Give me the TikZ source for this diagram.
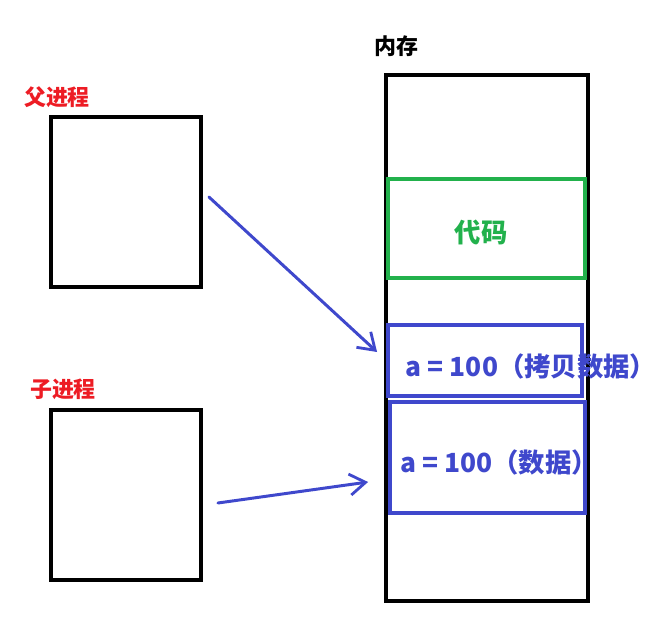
\documentclass[tikz,border=0pt]{standalone}
\usepackage{fontspec}
\newfontfamily\cjk{Noto Sans CJK SC}
\usetikzlibrary{positioning, arrows.meta, calc}
\definecolor{frame}{RGB}{0, 0, 0}
\definecolor{label}{RGB}{237, 28, 36}
\definecolor{segcode}{RGB}{34, 177, 76}
\definecolor{segdata}{RGB}{63, 72, 204}

\begin{document}
\begin{tikzpicture}[
    box/.style={
        rectangle, draw=#1, line width=2.2pt,
        inner sep=0pt,
    },
    tag/.style={
        font=\cjk\bfseries\fontsize{12.5}{14}\selectfont, text=#1,
        inner sep=0pt,
    },
    segtext/.style={
        font=\cjk\bfseries\fontsize{15}{17}\selectfont, text=#1,
        inner sep=0pt,
    },
    link/.style={-{Straight Barb[length=9pt, width=12pt, line width=1.6pt]},
        line width=1.7pt, draw=segdata, line cap=round},
]
\useasboundingbox (0,0) rectangle (12.94,-12.48);

% --- Memory column ---
\node[box=frame, minimum width=4.04cm, minimum height=10.52cm] (mem) at (9.74,-6.76) {};
\node[tag=frame] (memtag) at (7.92,-0.92) {内存};

% --- Segments inside memory ---
\node[box=segcode, minimum width=3.94cm, minimum height=1.98cm] (code) at (9.73,-4.57) {};
\node[segtext=segcode] (codetxt) at (9.62,-4.64) {代码};
\node[box=segdata, minimum width=3.88cm, minimum height=1.42cm] (copy) at (9.70,-7.21) {};
\node[segtext=segdata] (copytxt) at (10.62,-7.32) {a = 100（拷贝数据）};
\node[box=segdata, minimum width=3.90cm, minimum height=2.22cm] (data) at (9.75,-9.15) {};
\node[segtext=segdata] (datatxt) at (9.98,-9.24) {a = 100（数据）};

% --- Processes ---
\node[box=frame, minimum width=3.0cm, minimum height=3.4cm] (parent) at (2.52,-4.04) {};
\node[tag=label] (parenttag) at (1.14,-1.94) {父进程};
\node[box=frame, minimum width=3.0cm, minimum height=3.4cm] (child) at (2.52,-9.90) {};
\node[tag=label] (childtag) at (1.26,-7.78) {子进程};

% --- Arrows to memory ---
\coordinate (pout) at ($(parent.east)+(0.12,0.10)$);
\coordinate (pin) at ($(copy.west)+(-0.18,0.17)$);
\coordinate (cout) at ($(child.east)+(0.30,-0.16)$);
\coordinate (cin) at ($(data.west)+(-0.40,-0.49)$);
\draw[link] (pout) -- (pin);
\draw[link] (cout) -- (cin);

\end{tikzpicture}
\end{document}
